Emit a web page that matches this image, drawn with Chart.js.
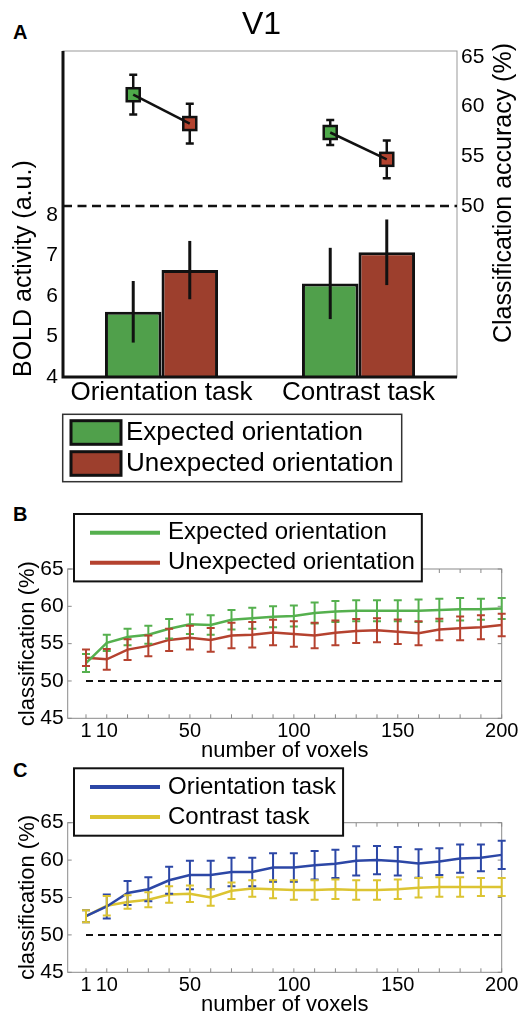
<!DOCTYPE html>
<html lang="en">
<head>
<meta charset="utf-8">
<title>V1</title>
<script src="https://cdn.jsdelivr.net/npm/chart.js@4.4.1/dist/chart.umd.min.js"></script>
<style>
  html, body { margin: 0; padding: 0; background: #ffffff; }
  body { position: relative; width: 523px; height: 1014px; overflow: hidden;
         font-family: "Liberation Sans", Arial, Helvetica, sans-serif; }
  canvas { position: absolute; left: 0; }
  .letra { position: absolute; left: 13px; font-size: 20px; line-height: 20px; font-weight: bold; color: #000; }
</style>
</head>
<body>
<div class="letra" style="top:22px">A</div>
<div class="letra" style="top:504px">B</div>
<div class="letra" style="top:760px">C</div>
<canvas id="chartA" width="523" height="490" style="top:0px"></canvas>
<canvas id="chartB" width="523" height="270" style="top:500px"></canvas>
<canvas id="chartC" width="523" height="262" style="top:758px"></canvas>
<script>

// ---------- DATA ----------

// panel A: BOLD activity (bars) and classification accuracy (squares)
const tasks = ['Orientation task', 'Contrast task'];
const seriesNames = ['Expected orientation', 'Unexpected orientation'];
const boldExpected = [5.61, 6.31];
const boldExpectedErr = [0.76, 0.88];
const boldUnexpected = [6.64, 7.08];
const boldUnexpectedErr = [0.72, 0.81];
const accExpected = [61.2, 57.4];
const accExpectedErr = [2.0, 1.27];
const accUnexpected = [58.3, 54.7];
const accUnexpectedErr = [2.0, 1.9];
const chanceLevel = 50;
const boldTicks = [4, 5, 6, 7, 8];
const accTicks = [50, 55, 60, 65];

// panels B and C: classification vs number of voxels
const voxelCounts = [1, 10, 20, 30, 40, 50, 60, 70, 80, 90, 100, 110, 120, 130, 140, 150, 160, 170, 180, 190, 200];
const voxelTickLabels = [1, 10, 50, 100, 150, 200];
const classTicks = [45, 50, 55, 60, 65];

const expectedB = [52.4, 55.1, 55.9, 56.2, 57.0, 57.6, 57.5, 58.2, 58.4, 58.6, 58.7, 59.1, 59.3, 59.4, 59.4, 59.4, 59.4, 59.5, 59.6, 59.6, 59.7];
const expectedBErr = [1.2, 1.1, 1.1, 1.2, 1.3, 1.3, 1.3, 1.3, 1.4, 1.4, 1.4, 1.4, 1.4, 1.4, 1.4, 1.4, 1.5, 1.5, 1.5, 1.4, 1.4];
const unexpectedB = [53.1, 52.9, 54.2, 54.7, 55.5, 55.8, 55.5, 56.1, 56.2, 56.5, 56.3, 56.1, 56.45, 56.7, 56.8, 56.6, 56.4, 56.9, 57.05, 57.2, 57.5];
const unexpectedBErr = [1.1, 1.4, 1.4, 1.4, 1.5, 1.6, 1.6, 1.7, 1.7, 1.7, 1.7, 1.7, 1.65, 1.6, 1.6, 1.65, 1.6, 1.45, 1.6, 1.6, 1.5];

const orientationC = [52.5, 53.8, 55.6, 56.1, 57.3, 58.0, 58.0, 58.4, 58.4, 59.0, 59.0, 59.3, 59.5, 59.9, 60.0, 59.85, 59.55, 59.8, 60.2, 60.3, 60.7];
const orientationCErr = [0.8, 1.6, 1.6, 1.6, 1.8, 1.9, 1.9, 1.9, 1.9, 1.9, 1.9, 1.9, 1.9, 1.95, 1.9, 1.9, 1.9, 1.8, 1.9, 1.8, 1.9];
const contrastC = [52.5, 53.9, 54.4, 54.7, 55.4, 55.5, 55.0, 55.9, 56.2, 56.1, 56.0, 56.0, 56.1, 56.0, 56.0, 56.1, 56.3, 56.4, 56.4, 56.4, 56.4];
const contrastCErr = [0.8, 1.3, 0.9, 1.0, 1.1, 1.1, 1.1, 1.1, 1.1, 1.2, 1.3, 1.3, 1.3, 1.3, 1.3, 1.3, 1.3, 1.3, 1.3, 1.2, 1.2];

// colours
const GREEN_BAR = '#50a04b';
const RED_BAR = '#9d3f2d';
const GREEN_MARK = '#4ea94a';
const RED_MARK = '#b3432f';
const GREEN_LINE = '#55b04e';
const RED_LINE = '#b5422f';
const BLUE_LINE = '#2c47a6';
const YELLOW_LINE = '#dcc432';

const FONT = '"Liberation Sans", Arial, Helvetica, sans-serif';
Chart.defaults.font.family = FONT;
Chart.defaults.color = '#000';

// no grid lines and no outward tick marks anywhere
const noGrid = { display: false, drawTicks: false };


// ---------- PLUGINS ----------

// grey box round the plot area, with small inward ticks
const framePlugin = {
  id: 'frame',
  beforeDatasetsDraw(chart, args, opts) {
    const { ctx, chartArea: a } = chart;
    ctx.save();
    ctx.strokeStyle = opts.color;
    ctx.lineWidth = 1;
    ctx.strokeRect(a.left, a.top, a.right - a.left, a.bottom - a.top);
    if (opts.tickLength) {
      const L = opts.tickLength;
      const xs = chart.scales.x;
      const ys = chart.scales.y;
      ctx.beginPath();
      xs.ticks.forEach(t => {
        const px = xs.getPixelForValue(t.value);
        ctx.moveTo(px, a.bottom); ctx.lineTo(px, a.bottom - L);
        ctx.moveTo(px, a.top); ctx.lineTo(px, a.top + L);
      });
      ys.ticks.forEach(t => {
        const py = ys.getPixelForValue(t.value);
        ctx.moveTo(a.left, py); ctx.lineTo(a.left + L, py);
        ctx.moveTo(a.right, py); ctx.lineTo(a.right - L, py);
      });
      ctx.stroke();
    }
    ctx.restore();
  }
};

// legend drawn inside a white box with a border
const boxLegendPlugin = {
  id: 'boxLegend',
  afterDraw(chart, args, opts) {
    const { ctx } = chart;
    const items = chart.data.datasets.filter(ds => ds.label);
    ctx.save();
    ctx.font = opts.fontSize + 'px ' + FONT;
    const textWidth = Math.max(...items.map(ds => ctx.measureText(ds.label).width));
    const textX = opts.x + opts.markX + opts.markWidth + opts.gap;
    const width = textX + textWidth + opts.padRight - opts.x;
    const height = opts.padTop * 2 + opts.rowHeight * (items.length - 1);

    ctx.fillStyle = '#fff';
    ctx.fillRect(opts.x, opts.y, width, height);
    ctx.strokeStyle = opts.borderColor;
    ctx.lineWidth = opts.borderWidth;
    ctx.strokeRect(opts.x, opts.y, width, height);

    items.forEach((ds, i) => {
      const cy = opts.y + opts.padTop + i * opts.rowHeight;
      const mx = opts.x + opts.markX;
      if (opts.kind === 'box') {
        ctx.fillStyle = ds.backgroundColor;
        ctx.fillRect(mx, cy - opts.markHeight / 2, opts.markWidth, opts.markHeight);
        ctx.strokeStyle = '#111';
        ctx.lineWidth = 3;
        ctx.strokeRect(mx, cy - opts.markHeight / 2, opts.markWidth, opts.markHeight);
      } else {
        ctx.strokeStyle = ds.borderColor;
        ctx.lineWidth = 4;
        ctx.beginPath();
        ctx.moveTo(mx, cy);
        ctx.lineTo(mx + opts.markWidth, cy);
        ctx.stroke();
      }
      ctx.fillStyle = '#000';
      ctx.textAlign = 'left';
      ctx.textBaseline = 'middle';
      ctx.fillText(ds.label, textX, cy);
    });
    ctx.restore();
  }
};

// vertical error bars with caps, in the colour of each line
const errorBarsPlugin = {
  id: 'errorBars',
  afterDatasetsDraw(chart, args, opts) {
    const { ctx } = chart;
    const ys = chart.scales.y;
    chart.data.datasets.forEach((ds, i) => {
      if (!ds.errors) return;
      ctx.save();
      ctx.strokeStyle = ds.borderColor;
      ctx.lineWidth = opts.lineWidth;
      chart.getDatasetMeta(i).data.forEach((pt, j) => {
        const v = ds.data[j].y;
        const top = ys.getPixelForValue(v + ds.errors[j]);
        const bottom = ys.getPixelForValue(v - ds.errors[j]);
        ctx.beginPath();
        ctx.moveTo(pt.x, top); ctx.lineTo(pt.x, bottom);
        ctx.moveTo(pt.x - opts.capWidth, top); ctx.lineTo(pt.x + opts.capWidth, top);
        ctx.moveTo(pt.x - opts.capWidth, bottom); ctx.lineTo(pt.x + opts.capWidth, bottom);
        ctx.stroke();
      });
      ctx.restore();
    });
  }
};

// panel A extras: bar error bars, chance line, black axes, accuracy squares
const panelAPlugin = {
  id: 'panelA',
  afterDatasetsDraw(chart, args, opts) {
    const { ctx, chartArea: area, scales } = chart;
    const yBold = scales.y;
    const yAcc = scales.y2;
    const datasets = chart.data.datasets;
    ctx.save();

    // error bars on the bars (no caps)
    ctx.strokeStyle = '#111';
    ctx.lineWidth = 3;
    datasets.forEach((ds, i) => {
      chart.getDatasetMeta(i).data.forEach((bar, j) => {
        ctx.beginPath();
        ctx.moveTo(bar.x, yBold.getPixelForValue(ds.data[j] + ds.errors[j]));
        ctx.lineTo(bar.x, yBold.getPixelForValue(ds.data[j] - ds.errors[j]));
        ctx.stroke();
      });
    });

    // dashed line at chance level (right axis)
    const yChance = yAcc.getPixelForValue(opts.chance);
    ctx.lineWidth = 2.5;
    ctx.setLineDash([9, 5.5]);
    ctx.beginPath();
    ctx.moveTo(area.left, yChance);
    ctx.lineTo(area.right, yChance);
    ctx.stroke();
    ctx.setLineDash([]);

    // thick black left and bottom axes
    ctx.lineWidth = 3;
    ctx.beginPath();
    ctx.moveTo(area.left, area.top);
    ctx.lineTo(area.left, area.bottom);
    ctx.lineTo(area.right, area.bottom);
    ctx.stroke();

    // accuracy points placed over the centre of each bar
    const points = datasets.map((ds, i) =>
      chart.getDatasetMeta(i).data.map((bar, j) => ({
        x: bar.x,
        y: yAcc.getPixelForValue(ds.accuracy[j]),
        top: yAcc.getPixelForValue(ds.accuracy[j] + ds.accuracyErrors[j]),
        bottom: yAcc.getPixelForValue(ds.accuracy[j] - ds.accuracyErrors[j]),
        color: ds.markerColor
      }))
    );
    const cap = 4;
    const half = 6.5;
    ctx.strokeStyle = '#111';
    ctx.lineWidth = 2.5;
    points.flat().forEach(p => {
      ctx.beginPath();
      ctx.moveTo(p.x, p.top); ctx.lineTo(p.x, p.bottom);
      ctx.moveTo(p.x - cap, p.top); ctx.lineTo(p.x + cap, p.top);
      ctx.moveTo(p.x - cap, p.bottom); ctx.lineTo(p.x + cap, p.bottom);
      ctx.stroke();
    });
    points.flat().forEach(p => {
      ctx.fillStyle = p.color;
      ctx.fillRect(p.x - half, p.y - half, half * 2, half * 2);
      ctx.lineWidth = 2.5;
      ctx.strokeRect(p.x - half, p.y - half, half * 2, half * 2);
    });
    ctx.lineWidth = 2.5;
    tasks.forEach((t, j) => {
      ctx.beginPath();
      ctx.moveTo(points[0][j].x, points[0][j].y);
      ctx.lineTo(points[1][j].x, points[1][j].y);
      ctx.stroke();
    });
    ctx.restore();
  },
  afterDraw(chart, args, opts) {
    // right axis title, reading bottom to top
    const { ctx } = chart;
    ctx.save();
    ctx.font = opts.titleSize + 'px ' + FONT;
    ctx.fillStyle = '#000';
    ctx.translate(opts.titleX, opts.titleTop);
    ctx.rotate(-Math.PI / 2);
    ctx.textAlign = 'right';
    ctx.textBaseline = 'middle';
    ctx.fillText(opts.title, 0, 0);
    ctx.restore();
  }
};


// ---------- PANEL A ----------

new Chart(document.getElementById('chartA'), {
  type: 'bar',
  data: {
    labels: tasks,
    datasets: [
      {
        label: seriesNames[0], data: boldExpected, errors: boldExpectedErr,
        accuracy: accExpected, accuracyErrors: accExpectedErr, markerColor: GREEN_MARK,
        backgroundColor: GREEN_BAR, borderColor: '#111', borderWidth: 3, borderSkipped: false, yAxisID: 'y'
      },
      {
        label: seriesNames[1], data: boldUnexpected, errors: boldUnexpectedErr,
        accuracy: accUnexpected, accuracyErrors: accUnexpectedErr, markerColor: RED_MARK,
        backgroundColor: RED_BAR, borderColor: '#111', borderWidth: 3, borderSkipped: false, yAxisID: 'y'
      }
    ]
  },
  options: {
    responsive: false,
    animation: false,
    events: [],
    datasets: { bar: { categoryPercentage: 0.574, barPercentage: 1 } },
    layout: { padding: { left: 0, right: 0, top: 0, bottom: 82 } },
    plugins: {
      legend: { display: false },
      tooltip: { enabled: false },
      title: {
        display: true, text: 'V1', color: '#000',
        font: { size: 32, weight: 'normal' },
        padding: { top: 6, bottom: 6.6 }
      },
      frame: { color: '#999999', tickLength: 0 },
      panelA: { chance: chanceLevel, title: 'Classification accuracy (%)', titleSize: 25, titleX: 504, titleTop: 43 },
      boxLegend: {
        kind: 'box', x: 62.7, y: 414.3, padTop: 18.2, rowHeight: 31,
        markX: 8.3, markWidth: 50, markHeight: 23.6, gap: 5, padRight: 8.3,
        fontSize: 26, borderColor: '#333', borderWidth: 1.5
      }
    },
    scales: {
      x: {
        grid: noGrid, border: { display: false },
        ticks: { font: { size: 26 }, padding: 0 },
        afterFit: s => { s.height = 31; }
      },
      y: {
        position: 'left', min: 4, max: 12.05,
        grid: noGrid, border: { display: false },
        afterBuildTicks: s => { s.ticks = boldTicks.map(v => ({ value: v })); },
        ticks: { font: { size: 21 }, padding: 5 },
        title: {
          display: true, text: 'BOLD activity (a.u.)', align: 'start',
          font: { size: 25 }, padding: { top: 9, bottom: 0 }
        },
        afterFit: s => { s.width = 63; }
      },
      y2: {
        position: 'right', min: 32.8, max: 65.6,
        grid: noGrid, border: { display: false },
        afterBuildTicks: s => { s.ticks = accTicks.map(v => ({ value: v })); },
        ticks: { font: { size: 21 }, padding: 4 },
        afterFit: s => { s.width = 66; }
      }
    }
  },
  plugins: [framePlugin, panelAPlugin, boxLegendPlugin]
});


// ---------- PANELS B AND C ----------

function voxelChart(canvasId, series, legendY, areaTop, canvasHeight, plotHeight) {
  const datasets = series.map(s => ({
    label: s.label,
    data: s.values.map((v, i) => ({ x: i, y: v })),
    errors: s.errors,
    borderColor: s.color,
    backgroundColor: s.color,
    borderWidth: 2.5,
    pointRadius: 0,
    tension: 0
  }));
  // chance level
  datasets.push({
    data: voxelCounts.map((v, i) => ({ x: i, y: chanceLevel })),
    borderColor: '#111', borderWidth: 2, borderDash: [7, 5], pointRadius: 0
  });

  const axisHeight = 46;

  new Chart(document.getElementById(canvasId), {
    type: 'line',
    data: { datasets: datasets },
    options: {
      responsive: false,
      animation: false,
      events: [],
      layout: { padding: { left: 0, right: 21.3, top: areaTop, bottom: canvasHeight - areaTop - plotHeight - axisHeight } },
      plugins: {
        legend: { display: false },
        tooltip: { enabled: false },
        frame: { color: '#8a8a8a', tickLength: 4 },
        errorBars: { lineWidth: 2, capWidth: 4 },
        boxLegend: {
          kind: 'line', x: 74, y: legendY, padTop: 18.7, rowHeight: 30,
          markX: 16, markWidth: 70, markHeight: 0, gap: 8, padRight: 7,
          fontSize: 24, borderColor: '#111', borderWidth: 2
        }
      },
      scales: {
        x: {
          type: 'linear', min: -0.88, max: voxelCounts.length - 1,
          grid: noGrid, border: { display: false },
          afterBuildTicks: s => { s.ticks = voxelCounts.map((v, i) => ({ value: i })); },
          ticks: {
            font: { size: 20 }, padding: 1, autoSkip: false, maxRotation: 0,
            callback: value => voxelTickLabels.includes(voxelCounts[value]) ? String(voxelCounts[value]) : ''
          },
          title: { display: true, text: 'number of voxels', font: { size: 22 }, padding: { top: 0, bottom: 0 } },
          afterFit: s => { s.height = axisHeight; }
        },
        y: {
          min: 45, max: 65,
          grid: noGrid, border: { display: false },
          afterBuildTicks: s => { s.ticks = classTicks.map(v => ({ value: v })); },
          ticks: { font: { size: 21 }, padding: 4 },
          title: { display: true, text: 'classification (%)', font: { size: 22 }, padding: { top: 15, bottom: 0 } },
          afterFit: s => { s.width = 67.7; }
        }
      }
    },
    plugins: [framePlugin, errorBarsPlugin, boxLegendPlugin]
  });
}

voxelChart('chartB', [
  { label: seriesNames[0], values: expectedB, errors: expectedBErr, color: GREEN_LINE },
  { label: seriesNames[1], values: unexpectedB, errors: unexpectedBErr, color: RED_LINE }
], 14, 69, 270, 149.3);

voxelChart('chartC', [
  { label: tasks[0], values: orientationC, errors: orientationCErr, color: BLUE_LINE },
  { label: tasks[1], values: contrastC, errors: contrastCErr, color: YELLOW_LINE }
], 10.3, 64.7, 262, 149.6);

</script>
</body>
</html>
